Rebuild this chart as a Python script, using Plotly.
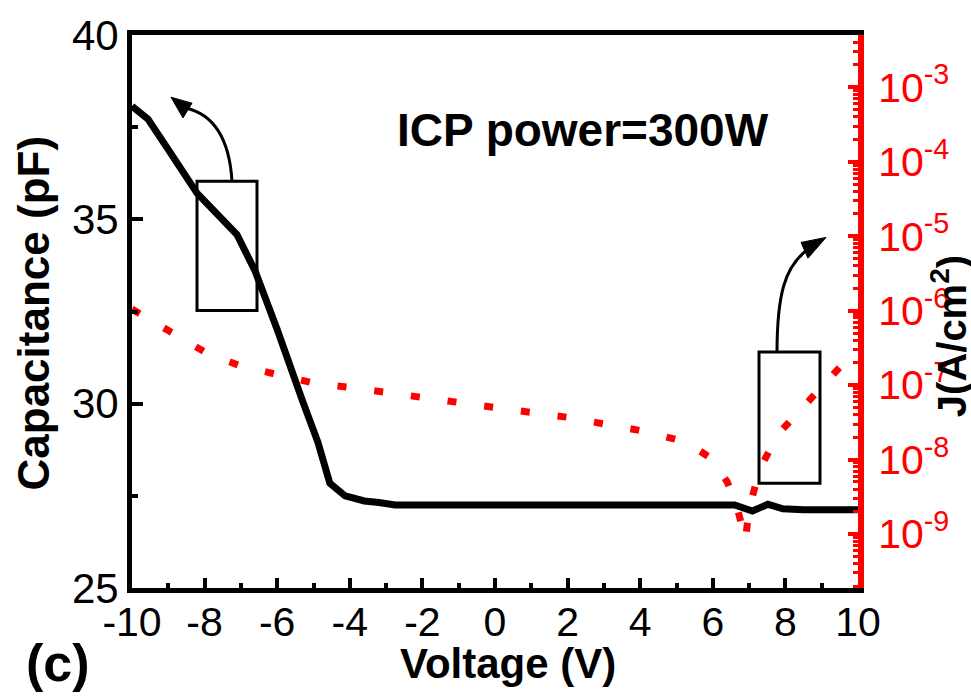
import plotly.graph_objects as go

# ---------------- data ----------------
voltage_c = [-10, -9.56, -9.0, -8.21, -7.11, -6.61, -6.0, -5.65, -5.29, -4.88,
             -4.55, -4.13, -3.6, -3.2, -2.75, 0, 3, 6.6, 7.09, 7.52, 7.93, 8.5, 10]
capacitance = [38.07, 37.72, 36.89, 35.71, 34.59, 33.6, 32.01, 31.1, 30.04, 28.96,
               27.84, 27.5, 27.36, 27.32, 27.25, 27.25, 27.25, 27.25, 27.09, 27.27,
               27.15, 27.12, 27.12]

voltage_j = [-10, -9, -8, -7, -6, -5, -4, -3, -2, -1, 0, 1, 2, 3, 4, 5, 5.6,
             6.0, 6.4, 6.7, 6.9, 7.0, 7.3, 7.8, 8.5, 9.0, 9.6, 10]
current_density = [1.05e-6, 5.4e-7, 2.8e-7, 1.8e-7, 1.35e-7, 1.07e-7, 9.3e-8,
                   7.9e-8, 6.9e-8, 6.0e-8, 5.0e-8, 4.3e-8, 3.7e-8, 3.0e-8,
                   2.45e-8, 1.86e-8, 1.35e-8, 1.0e-8, 5.0e-9, 2.0e-9, 8.3e-10,
                   2.2e-9, 7.6e-9, 2.2e-8, 5.2e-8, 9.3e-8, 2.0e-7, 3.2e-7]

x_ticks = [-10, -8, -6, -4, -2, 0, 2, 4, 6, 8, 10]
x_ticktext = ["-10", "-8", "-6", "-4", "-2", "0", "2", "4", "6", "8", "10"]
c_ticks = [25, 30, 35, 40]
j_tickvals = [1e-9, 1e-8, 1e-7, 1e-6, 1e-5, 1e-4, 1e-3]
j_ticktext = ["10<sup>-9</sup>", "10<sup>-8</sup>", "10<sup>-7</sup>", "10<sup>-6</sup>",
              "10<sup>-5</sup>", "10<sup>-4</sup>", "10<sup>-3</sup>"]

# ---------------- layout geometry ----------------
W, H = 971, 697
L, R, T, B = 132, 858, 28, 588
XR = (-10, 10)
CR = (25, 40)
JR = (-9.725, -2.297)

def dx(px):
    return XR[0] + (px - L) / (R - L) * (XR[1] - XR[0])

def dy(py):
    return CR[1] - (py - T) / (B - T) * (CR[1] - CR[0])

def px_path(cmds):
    out = []
    for c in cmds:
        if isinstance(c, str):
            out.append(c)
        else:
            out.append(f"{dx(c[0]):.4f},{dy(c[1]):.4f}")
    return " ".join(out)

FONT = "Arial, Liberation Sans, sans-serif"

fig = go.Figure()
fig.add_trace(go.Scatter(x=voltage_c, y=capacitance, mode="lines",
                         line=dict(color="black", width=7), yaxis="y",
                         showlegend=False))
fig.add_trace(go.Scatter(x=voltage_j, y=current_density, mode="lines",
                         line=dict(color="#ff0000", width=7, dash="9px,28px"),
                         yaxis="y2", showlegend=False))

shapes = [
    dict(type="rect", xref="x", yref="y", x0=dx(197), x1=dx(257), y0=dy(307), y1=dy(176),
         line=dict(color="black", width=3)),
    dict(type="rect", xref="x", yref="y", x0=dx(759), x1=dx(820), y0=dy(482), y1=dy(349),
         line=dict(color="black", width=3)),
    dict(type="path", xref="x", yref="y",
         path=px_path(["M", (232, 176), "Q", (228, 112), (186, 102)]),
         line=dict(color="black", width=3)),
    dict(type="path", xref="x", yref="y",
         path=px_path(["M", (171, 91), "L", (183, 112), "L", (192, 97), "Z"]),
         fillcolor="black", line=dict(color="black", width=1)),
    dict(type="path", xref="x", yref="y",
         path=px_path(["M", (777, 350), "C", (777, 290), (785, 262), (808, 245)]),
         line=dict(color="black", width=3)),
    dict(type="path", xref="x", yref="y",
         path=px_path(["M", (826, 233), "L", (801, 238), "L", (808, 254), "Z"]),
         fillcolor="black", line=dict(color="black", width=1)),
]

def pxp(px):
    return (px - L) / (R - L)

def pyp(py):
    return (B - py) / (B - T)

def ann(text, px, py, size, angle=0, color="black"):
    return dict(text=text, x=pxp(px), y=pyp(py), xref="paper", yref="paper",
                xanchor="center", yanchor="middle", showarrow=False, textangle=angle,
                font=dict(family=FONT, size=size, color=color))

annotations = [
    ann("<b>ICP power=300W</b>", 583, 124, 46),
    ann("<b>Capacitance (pF)</b>", 33, 310, 44, -90),
    ann("<b>Voltage (V)</b>", 508, 664, 42),
    ann("<b>(c)</b>", 58, 664, 52),
    ann("<b>J(A/cm<sup>2</sup>)</b>", 949, 333, 40, -90),
]

fig.update_layout(
    width=W, height=H,
    margin=dict(l=L, r=W - R, t=T, b=H - B, pad=0),
    paper_bgcolor="white", plot_bgcolor="white",
    font=dict(family=FONT, color="black"),
    xaxis=dict(range=list(XR), tickvals=x_ticks, ticktext=x_ticktext,
               showgrid=False, zeroline=False,
               showline=True, linecolor="black", linewidth=5, mirror=True,
               ticks="inside", ticklen=10, tickwidth=4, tickcolor="black",
               ticklabelstandoff=-6,
               minor=dict(ticks="inside", ticklen=5, tickwidth=4, dtick=1, tickcolor="black"),
               tickfont=dict(family=FONT, size=41, color="black")),
    yaxis=dict(range=list(CR), tickvals=c_ticks, showgrid=False, zeroline=False,
               showline=True, linecolor="black", linewidth=5,
               ticks="inside", ticklen=11, tickwidth=4, tickcolor="black",
               minor=dict(ticks="inside", ticklen=6, tickwidth=4, dtick=2.5, tickcolor="black"),
               tickfont=dict(family=FONT, size=42, color="black")),
    yaxis2=dict(type="log", range=list(JR), overlaying="y", side="right",
                tickvals=j_tickvals, ticktext=j_ticktext, showgrid=False, zeroline=False,
                showline=True, linecolor="#ff0000", linewidth=6,
                ticks="inside", ticklen=10, tickwidth=4, tickcolor="#ff0000",
                ticklabelstandoff=6,
                minor=dict(ticks="inside", ticklen=5, tickwidth=3, dtick="D1", tickcolor="#ff0000"),
                tickfont=dict(family=FONT, size=41, color="#ff0000")),
    shapes=shapes,
    annotations=annotations,
)

fig.write_html("out.html")
